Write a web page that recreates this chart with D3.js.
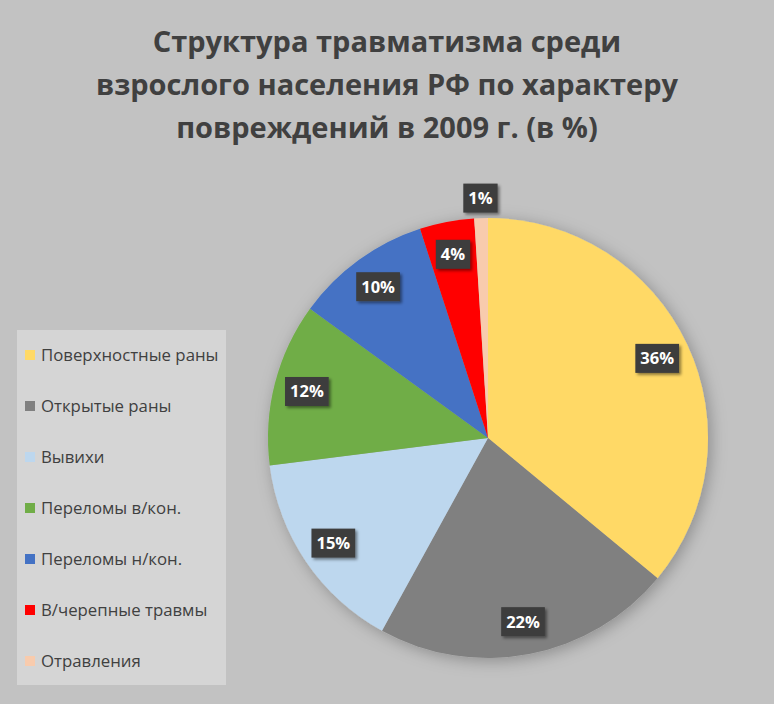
<!DOCTYPE html>
<html><head><meta charset="utf-8">
<script src="https://cdn.jsdelivr.net/npm/d3@7"></script>
<style>
html,body{margin:0;padding:0;background:#c2c2c2;}
svg{display:block;}
</style></head>
<body>
<svg id="chart" width="774" height="704"></svg>
<script>
const titleLines = ["Структура травматизма среди", "взрослого населения РФ по характеру", "повреждений в 2009 г. (в %)"];
const categories = ["Поверхностные раны", "Открытые раны", "Вывихи", "Переломы в/кон.", "Переломы н/кон.", "В/черепные травмы", "Отравления"];
const values = [36, 22, 15, 12, 10, 4, 1];
const colors = ["#FFD966", "#808080", "#BDD7EE", "#70AD47", "#4472C4", "#FF0000", "#F8CBAD"];

const svg = d3.select("#chart");
const font = "'Open Sans', 'Noto Sans', sans-serif";

svg.append("rect").attr("width", 774).attr("height", 704).attr("fill", "#c2c2c2");

const defs = svg.append("defs");
const f = defs.append("filter").attr("id", "pieShadow").attr("x", "-20%").attr("y", "-20%").attr("width", "140%").attr("height", "140%");
f.append("feDropShadow").attr("dx", 3).attr("dy", 3).attr("stdDeviation", 8).attr("flood-color", "#000").attr("flood-opacity", 0.28);
const f2 = defs.append("filter").attr("id", "lblShadow").attr("x", "-30%").attr("y", "-30%").attr("width", "160%").attr("height", "160%");
f2.append("feDropShadow").attr("dx", 2).attr("dy", 2).attr("stdDeviation", 1.5).attr("flood-color", "#000").attr("flood-opacity", 0.45);

// Title
const title = svg.append("text").attr("text-anchor", "middle")
  .attr("font-family", font).attr("font-weight", 700).attr("font-size", 29)
  .attr("fill", "#404040");
titleLines.forEach((t, i) => {
  title.append("tspan").attr("x", 387).attr("y", 52 + i * 43).text(t);
});

// Pie
const cx = 488, cy = 438, R = 220;
const pie = d3.pie().sort(null).value(d => d)(values);
const arc = d3.arc().innerRadius(0).outerRadius(R);
const g = svg.append("g").attr("transform", `translate(${cx},${cy})`);
g.append("g").attr("filter", "url(#pieShadow)")
  .selectAll("path").data(pie).join("path")
  .attr("d", arc).attr("fill", (d, i) => colors[i]);

// Labels
const lblG = g.append("g");
pie.forEach((d, i) => {
  const mid = (d.startAngle + d.endAngle) / 2;
  const lr = values[i] < 3 ? 240 : 187;
  const x = Math.sin(mid) * lr, y = -Math.cos(mid) * lr;
  const lg = lblG.append("g").attr("transform", `translate(${x},${y})`);
  const txt = values[i] + "%";
  const t = lg.append("text").attr("text-anchor", "middle").attr("dy", "0.36em")
    .attr("font-family", font).attr("font-weight", 700).attr("font-size", 16.5)
    .attr("fill", "#ffffff").text(txt);
  const w = t.node().getComputedTextLength() + 10;
  lg.insert("rect", "text").attr("x", -w / 2).attr("y", -14.5).attr("width", w).attr("height", 29)
    .attr("fill", "#3d3d3d").attr("filter", "url(#lblShadow)");
});

// Legend
const legend = svg.append("g");
legend.append("rect").attr("x", 17).attr("y", 330).attr("width", 209).attr("height", 355).attr("fill", "#d5d5d5");
const ly = d3.scalePoint().domain(categories).range([355, 661]);
categories.forEach((c, i) => {
  const y = ly(c);
  legend.append("rect").attr("x", 25).attr("y", y - 5).attr("width", 10).attr("height", 10).attr("fill", colors[i]);
  legend.append("text").attr("x", 41).attr("y", y).attr("dy", "0.35em")
    .attr("font-family", font).attr("font-size", 16.8).attr("fill", "#404040").text(c);
});
</script>
</body></html>
